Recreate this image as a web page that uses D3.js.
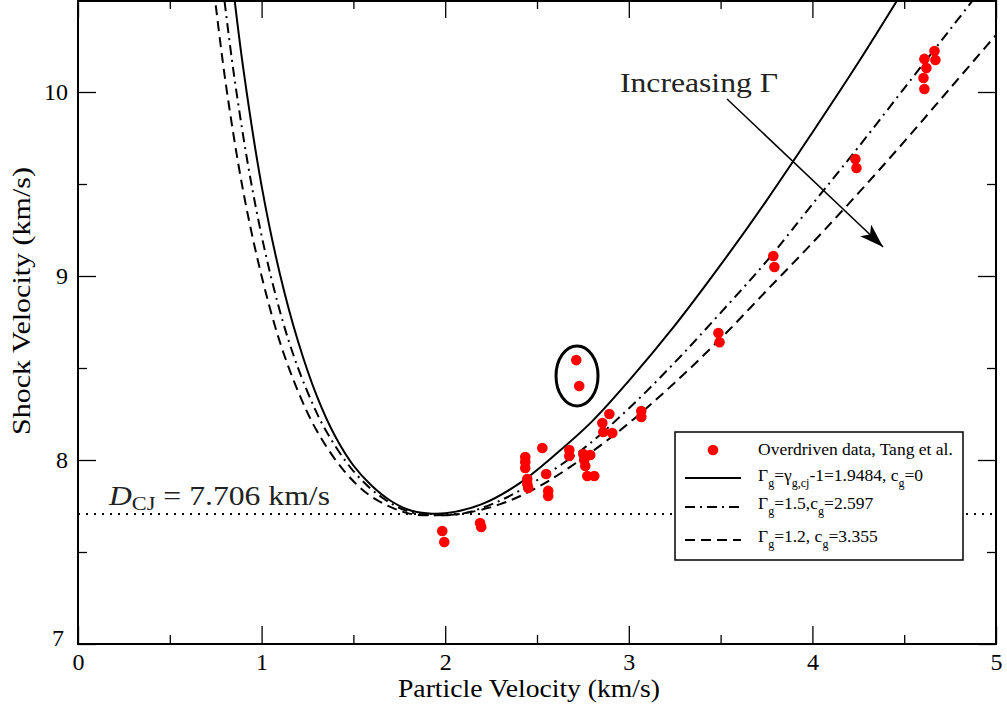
<!DOCTYPE html>
<html><head><meta charset="utf-8">
<script src="https://cdn.jsdelivr.net/npm/d3@7"></script>
<style>body{margin:0;background:#fff} svg{display:block}</style>
</head><body><svg id="c" width="1007" height="709"></svg>
<script>
// ---- data ----
const xTicks = [0, 1, 2, 3, 4, 5];
const xMinor = [0.5, 1.5, 2.5, 3.5, 4.5];
const yTicks = [7, 8, 9, 10];
const yMinor = [7.5, 8.5, 9.5];

// Overdriven data, Tang et al. (particle velocity, shock velocity)
const dataU = [1.984,1.995,2.19,2.196,2.436,2.436,2.436,2.447,2.447,2.452,2.529,2.55,2.561,2.561,2.676,2.676,2.752,2.757,2.763,2.79,2.774,2.812,2.856,2.861,2.91,2.894,3.068,3.068,2.714,2.73,3.488,3.494,3.787,3.793,4.234,4.24,4.61,4.605,4.621,4.61,4.67,4.665];
const dataD = [7.614,7.554,7.658,7.636,8.016,7.989,7.957,7.897,7.87,7.848,8.065,7.924,7.832,7.804,8.054,8.022,8.033,8.0,7.967,8.027,7.913,7.913,8.201,8.152,8.147,8.25,8.266,8.234,8.543,8.402,8.69,8.64,9.109,9.049,9.636,9.587,10.016,10.076,10.13,10.18,10.174,10.223];

// Gamma_g = gamma_g,cj - 1 = 1.9484, c_g = 0
const solidU = [0.84,0.9,1.0,1.1,1.2,1.3,1.4,1.5,1.6,1.7,1.8,1.9,2.0,2.2,2.4,2.6,2.8,3.0,3.25,3.5,3.75,4.0,4.25,4.5];
const solidD = [10.61,10.13,9.49,9.01,8.64,8.35,8.13,7.97,7.86,7.78,7.73,7.71,7.71,7.76,7.87,8.03,8.21,8.43,8.73,9.06,9.41,9.78,10.16,10.56];
// Gamma_g = 1.5, c_g = 2.597
const dashDotU = [0.77,0.85,0.95,1.05,1.15,1.25,1.35,1.5,1.65,1.8,1.95,2.1,2.3,2.5,2.75,3.0,3.25,3.5,3.75,4.0,4.25,4.5,4.75,5.0];
const dashDotD = [10.73,10.09,9.47,9.00,8.64,8.37,8.16,7.94,7.80,7.72,7.70,7.71,7.78,7.89,8.06,8.28,8.53,8.80,9.08,9.39,9.70,10.02,10.34,10.66];
// Gamma_g = 1.2, c_g = 3.355
const dashedU = [0.72,0.8,0.9,1.0,1.1,1.2,1.3,1.45,1.6,1.8,1.95,2.1,2.3,2.5,2.75,3.0,3.25,3.5,3.75,4.0,4.25,4.5,4.75,5.0];
const dashedD = [10.73,10.08,9.46,9.00,8.64,8.37,8.16,7.94,7.80,7.71,7.70,7.71,7.76,7.85,8.01,8.20,8.42,8.66,8.92,9.18,9.45,9.73,10.02,10.31];

const dCJ = 7.706;

// ---- layout ----
const svg = d3.select("#c");
const L = 78, R = 996, T = 0, B = 644;
const x = d3.scaleLinear().domain([0, 5]).range([L, R]);
const y = d3.scaleLinear().domain([7, 10.5]).range([B, T]);
const serif = "'Liberation Serif', 'Times New Roman', serif";

svg.append("defs").append("clipPath").attr("id", "clip")
  .append("rect").attr("x", L).attr("y", T).attr("width", R - L).attr("height", B - T);

const plot = svg.append("g").attr("clip-path", "url(#clip)");

// CJ dotted line
plot.append("line").attr("x1", L).attr("x2", R).attr("y1", y(dCJ)).attr("y2", y(dCJ))
  .attr("stroke", "#000").attr("stroke-width", 2).attr("stroke-dasharray", "2,6");

// curves
const line = d3.line().x(d => x(d[0])).y(d => y(d[1])).curve(d3.curveCatmullRom);
const curves = [
  {u: solidU, d: solidD, dash: null},
  {u: dashDotU, d: dashDotD, dash: "10,5,2,5"},
  {u: dashedU, d: dashedD, dash: "10,6"}
];
curves.forEach(c => {
  plot.append("path").datum(c.u.map((u, i) => [u, c.d[i]]))
    .attr("d", line).attr("fill", "none").attr("stroke", "#000").attr("stroke-width", 2)
    .attr("stroke-dasharray", c.dash);
});

// data points
plot.selectAll("circle.pt").data(dataU.map((u, i) => [u, dataD[i]])).enter()
  .append("circle").attr("class", "pt").attr("cx", d => x(d[0])).attr("cy", d => y(d[1]))
  .attr("r", 5.3).attr("fill", "#ff0000");

// ellipse around two points
svg.append("ellipse").attr("cx", x(2.718)).attr("cy", y(8.457)).attr("rx", 21).attr("ry", 30)
  .attr("fill", "none").attr("stroke", "#000").attr("stroke-width", 3);

// arrow
svg.append("defs").append("marker").attr("id", "ah2").attr("viewBox", "0 0 24 16")
  .attr("refX", 24).attr("refY", 8).attr("markerWidth", 24).attr("markerHeight", 16)
  .attr("markerUnits", "userSpaceOnUse").attr("orient", "auto")
  .append("path").attr("d", "M0,0 L24,8 L0,16 L6,8 Z").attr("fill", "#000");
svg.append("line").attr("x1", x(3.535)).attr("y1", y(9.962)).attr("x2", x(4.385)).attr("y2", y(9.158))
  .attr("stroke", "#000").attr("stroke-width", 1.5).attr("marker-end", "url(#ah2)");

svg.append("text").attr("x", 620).attr("y", 92).attr("font-family", serif).attr("font-size", 27)
  .attr("textLength", 158).attr("lengthAdjust", "spacingAndGlyphs").attr("fill", "#222")
  .text("Increasing Γ");

// D_CJ label
const dl = svg.append("text").attr("x", 109).attr("y", 505).attr("font-family", serif).attr("font-size", 27)
  .attr("fill", "#222").attr("textLength", 221).attr("lengthAdjust", "spacingAndGlyphs");
dl.append("tspan").attr("font-style", "italic").text("D");
dl.append("tspan").attr("font-size", 19).attr("dy", 5).text("CJ");
dl.append("tspan").attr("dy", -5).text(" = 7.706 km/s");

// ---- axes ----
function styleAxis(g) {
  g.select(".domain").remove();
  g.selectAll(".tick line").attr("stroke", "#000").attr("stroke-width", 1.3);
  g.selectAll(".tick text").attr("font-family", serif).attr("font-size", 24).attr("fill", "#000");
}
svg.append("g").attr("transform", `translate(0,${B})`)
  .call(d3.axisBottom(x).tickValues(xTicks).tickSize(-18).tickPadding(9).tickFormat(d3.format("d"))).call(styleAxis);
svg.append("g").attr("transform", `translate(0,${B})`)
  .call(d3.axisBottom(x).tickValues(xMinor).tickSize(-9).tickFormat("")).call(styleAxis);
svg.append("g").attr("transform", `translate(0,${T})`)
  .call(d3.axisTop(x).tickValues(xTicks).tickSize(-18).tickFormat("")).call(styleAxis);
svg.append("g").attr("transform", `translate(0,${T})`)
  .call(d3.axisTop(x).tickValues(xMinor).tickSize(-9).tickFormat("")).call(styleAxis);
const yl = svg.append("g").attr("transform", `translate(${L},0)`)
  .call(d3.axisLeft(y).tickValues(yTicks).tickSize(-18).tickPadding(10).tickFormat(d3.format("d"))).call(styleAxis);
yl.selectAll(".tick").filter(d => d === 7).select("text").attr("dy", "0.05em").attr("x", -14);
svg.append("g").attr("transform", `translate(${L},0)`)
  .call(d3.axisLeft(y).tickValues(yMinor).tickSize(-9).tickFormat("")).call(styleAxis);
svg.append("g").attr("transform", `translate(${R},0)`)
  .call(d3.axisRight(y).tickValues(yTicks).tickSize(-18).tickFormat("")).call(styleAxis);
svg.append("g").attr("transform", `translate(${R},0)`)
  .call(d3.axisRight(y).tickValues(yMinor).tickSize(-9).tickFormat("")).call(styleAxis);

// frame
svg.append("rect").attr("x", L).attr("y", T + 1).attr("width", R - L).attr("height", B - T - 1)
  .attr("fill", "none").attr("stroke", "#000").attr("stroke-width", 2);

// axis titles
svg.append("text").attr("x", 529).attr("y", 697).attr("text-anchor", "middle")
  .attr("font-family", serif).attr("font-size", 25).attr("textLength", 262).attr("lengthAdjust", "spacingAndGlyphs")
  .text("Particle Velocity (km/s)");
svg.append("text").attr("transform", "translate(30,301) rotate(-90)").attr("text-anchor", "middle")
  .attr("font-family", serif).attr("font-size", 25).attr("textLength", 268).attr("lengthAdjust", "spacingAndGlyphs")
  .text("Shock Velocity (km/s)");

// ---- legend ----
const lg = svg.append("g");
lg.append("rect").attr("x", 675).attr("y", 432).attr("width", 288).attr("height", 128)
  .attr("fill", "#fff").attr("stroke", "#000").attr("stroke-width", 1.5);
lg.append("circle").attr("cx", 713).attr("cy", 450).attr("r", 5.3).attr("fill", "#ff0000");
const legY = [478, 507, 540];
curves.forEach((c, i) => {
  lg.append("line").attr("x1", 685).attr("x2", 741).attr("y1", legY[i]).attr("y2", legY[i])
    .attr("stroke", "#000").attr("stroke-width", 2).attr("stroke-dasharray", c.dash);
});
const fs = 17.5, sub = 12;
lg.append("text").attr("x", 758).attr("y", 455).attr("font-family", serif).attr("font-size", fs)
  .text("Overdriven data, Tang et al.");
function legText(yy, parts) {
  const t = lg.append("text").attr("x", 758).attr("y", yy).attr("font-family", serif).attr("font-size", fs);
  let low = false;
  parts.forEach(p => {
    const isSub = p.startsWith("_");
    const s = t.append("tspan").text(isSub ? p.slice(1) : p);
    if (isSub && !low) { s.attr("dy", 6).attr("font-size", sub); low = true; }
    else if (isSub) { s.attr("font-size", sub); }
    else if (low) { s.attr("dy", -6); low = false; }
  });
}
legText(481, ["Γ", "_g", "=γ", "_g,cj", "-1=1.9484, c", "_g", "=0"]);
legText(509, ["Γ", "_g", "=1.5,c", "_g", "=2.597"]);
legText(542, ["Γ", "_g", "=1.2, c", "_g", "=3.355"]);
</script></body></html>
